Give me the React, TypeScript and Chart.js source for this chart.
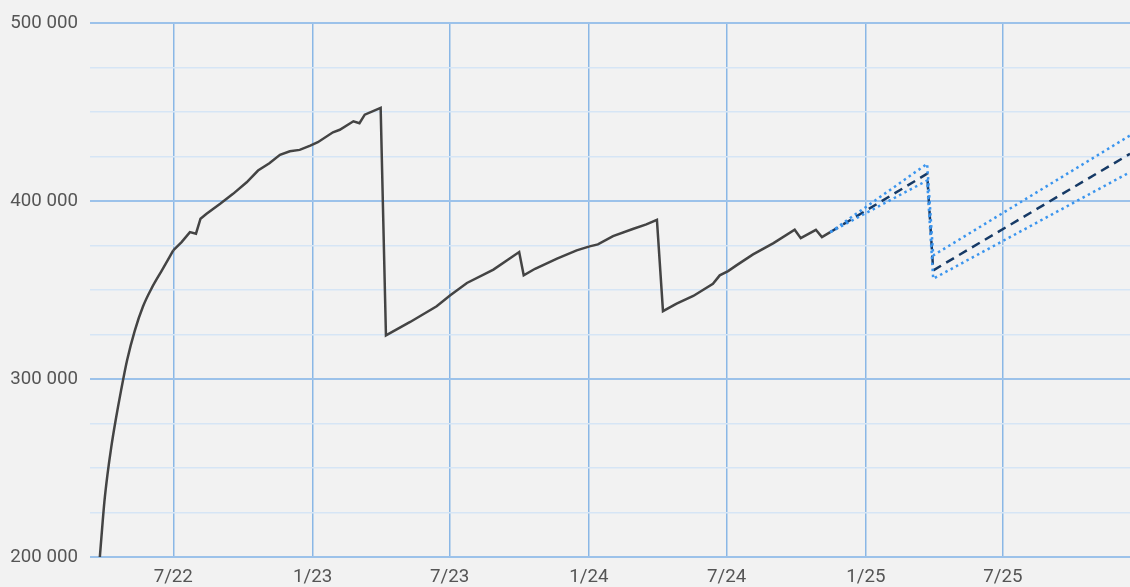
import React, { useEffect, useRef } from "react";
import { Chart, registerables } from "chart.js";

Chart.register(...registerables);

// ---- data ----
const actualDates = [
  "2022-03-26", "2022-03-29", "2022-04-01", "2022-04-05", "2022-04-10", "2022-04-16",
  "2022-04-23", "2022-05-01", "2022-05-11", "2022-05-22", "2022-06-03", "2022-06-16",
  "2022-07-01", "2022-07-12",
  "2022-07-23", "2022-07-31", "2022-08-06", "2022-08-14", "2022-09-01", "2022-09-18",
  "2022-10-06", "2022-10-21", "2022-11-05", "2022-11-19", "2022-12-02", "2022-12-15",
  "2022-12-29", "2023-01-08", "2023-01-28", "2023-02-06", "2023-02-24", "2023-03-04",
  "2023-03-11", "2023-04-01", "2023-04-08", "2023-05-10", "2023-06-14", "2023-07-02",
  "2023-07-24", "2023-08-28", "2023-10-01", "2023-10-07", "2023-10-22", "2023-11-20",
  "2023-12-16", "2024-01-02", "2024-01-13", "2024-02-02", "2024-02-29", "2024-03-17",
  "2024-03-31", "2024-04-08", "2024-04-26", "2024-05-18", "2024-06-13", "2024-06-22",
  "2024-07-03", "2024-07-14", "2024-08-05", "2024-09-01", "2024-09-29", "2024-10-07",
  "2024-10-27", "2024-11-04", "2024-11-15",
];
const actualValues = [
  200000, 216000, 231000, 246000, 261500, 277100,
  293500, 310600, 327000, 340800, 351500, 361100,
  372300, 377000,
  382600, 381700, 390100, 392900, 398500, 404100,
  410600, 417200, 421300, 426000, 428000, 428800,
  431200, 433100, 438700, 440100, 444900, 443800,
  448600, 452400, 324600, 332100, 340900, 347100,
  354000, 361500, 371400, 358300, 362000, 367700,
  372300, 374600, 375700, 380300, 384500, 386900,
  389500, 338200, 342400, 346700, 353600, 358300,
  360700, 363900, 370100, 376400, 383900, 379200,
  383900, 379800, 382600,
];
// the initial ramp-up (up to this date) is drawn as a smooth curve
const smoothUntil = "2022-07-01";

const forecastDates = ["2024-11-15", "2025-03-23", "2025-03-31", "2025-12-16"];
const forecastMid = [382600, 415400, 361100, 426600];
const forecastHigh = [382600, 421000, 369500, 436900];
const forecastLow = [382600, 411600, 356400, 416300];

const tickDates = ["2022-07-01", "2023-01-01", "2023-07-01", "2024-01-01", "2024-07-01", "2025-01-01", "2025-07-01"];
const tickLabels = ["7/22", "1/23", "7/23", "1/24", "7/24", "1/25", "7/25"];

const xMinDate = "2022-03-13";
const xMaxDate = "2025-12-16";
const yMin = 200000;
const yMax = 500000;
const yStep = 25000;
const yMajorStep = 100000;

// ---- helpers ----
const EPOCH = Date.parse("2022-01-01T00:00:00Z");
const toDay = (s: string) => (Date.parse(s + "T00:00:00Z") - EPOCH) / 86400000;
const toPoints = (dates: string[], vals: number[]) => dates.map((d, i) => ({ x: toDay(d), y: vals[i] }));
const fmt = (v: number) => String(v).replace(/\B(?=(\d{3})+(?!\d))/g, " ");

const tickDays = tickDates.map(toDay);

export default function App() {
  const ref = useRef<HTMLCanvasElement | null>(null);

  useEffect(() => {
    if (!ref.current) return;
    const font = { family: "Roboto", size: 18.7 };
    const split = actualDates.indexOf(smoothUntil);
    const actualPts = toPoints(actualDates, actualValues);
    const lineStyle = { borderColor: "#444444", borderWidth: 2.5, pointRadius: 0, fill: false };
    const chart = new Chart(ref.current, {
      type: "line",
      data: {
        datasets: [
          {
            data: toPoints(forecastDates, forecastHigh),
            borderColor: "#3b95ee",
            borderWidth: 2.5,
            borderDash: [2.5, 3.5],
            pointRadius: 0,
            fill: false,
          },
          {
            data: toPoints(forecastDates, forecastLow),
            borderColor: "#3b95ee",
            borderWidth: 2.5,
            borderDash: [2.5, 3.5],
            pointRadius: 0,
            fill: false,
          },
          {
            data: toPoints(forecastDates, forecastMid),
            borderColor: "#163a66",
            borderWidth: 2.5,
            borderDash: [9, 6],
            pointRadius: 0,
            fill: false,
          },
          {
            ...lineStyle,
            data: actualPts.slice(0, split + 1),
            cubicInterpolationMode: "monotone",
          },
          {
            ...lineStyle,
            data: actualPts.slice(split),
          },
        ],
      },
      options: {
        animation: false,
        responsive: true,
        maintainAspectRatio: false,
        layout: { padding: { top: 22, right: 0, bottom: 0, left: 0 } },
        plugins: { legend: { display: false }, tooltip: { enabled: false } },
        scales: {
          x: {
            type: "linear",
            min: toDay(xMinDate),
            max: toDay(xMaxDate),
            border: { display: false },
            grid: {
              color: "#8ab7e6",
              lineWidth: 1.5,
              drawTicks: false,
            },
            afterBuildTicks: (scale: any) => {
              scale.ticks = tickDays.map((v) => ({ value: v }));
            },
            afterFit: (scale: any) => {
              scale.height = 30;
            },
            ticks: {
              autoSkip: false,
              maxRotation: 0,
              padding: 9,
              color: "#555555",
              font,
              callback: (v: any) => {
                const i = tickDays.indexOf(Number(v));
                return i >= 0 ? tickLabels[i] : "";
              },
            },
          },
          y: {
            type: "linear",
            min: yMin,
            max: yMax,
            border: { display: false },
            grid: {
              drawTicks: false,
              color: (ctx: any) => (ctx.tick && ctx.tick.value % yMajorStep === 0 ? "#9cc2ea" : "#d6e5f5"),
              lineWidth: (ctx: any) => (ctx.tick && ctx.tick.value % yMajorStep === 0 ? 2 : 1.5),
            },
            afterFit: (scale: any) => {
              scale.width = 90;
            },
            ticks: {
              stepSize: yStep,
              padding: 12,
              color: "#555555",
              font,
              callback: (v: any) => (Number(v) % yMajorStep === 0 ? fmt(Number(v)) : ""),
            },
          },
        },
      },
    } as any);
    return () => chart.destroy();
  }, []);

  return (
    <div style={{ position: "fixed", left: 0, top: 0, width: 1130, height: 587, background: "#f2f2f2" }}>
      <canvas ref={ref} />
    </div>
  );
}
